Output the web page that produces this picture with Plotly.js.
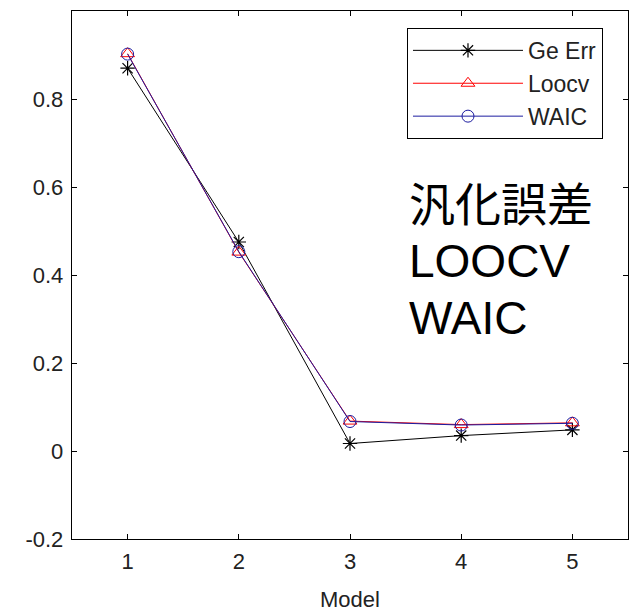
<!DOCTYPE html>
<html>
<head>
<meta charset="utf-8">
<script src="https://cdn.plot.ly/plotly-3.0.1.min.js"></script>
<style>html,body{margin:0;padding:0;background:#fff;overflow:hidden;}#chart{width:631px;height:612px;}</style>
</head>
<body>
<div id="chart"></div>
<script>
const models = [1, 2, 3, 4, 5];
const geErr = [0.870, 0.475, 0.017, 0.035, 0.048];
const loocv = [0.903, 0.452, 0.068, 0.060, 0.064];
const waic  = [0.902, 0.453, 0.067, 0.059, 0.063];
const seriesNames = ['Ge Err', 'Loocv', 'WAIC'];
const yTickVals = [-0.2, 0, 0.2, 0.4, 0.6, 0.8];
const yTickText = ['-0.2', '0', '0.2', '0.4', '0.6', '0.8'];
const noteLines = ['汎化誤差', 'LOOCV', 'WAIC'];

const font = 'Liberation Sans, Arial, Noto Sans CJK JP, sans-serif';
const noteFont = 'Liberation Sans, Arial, Noto Sans CJK JP, sans-serif';

const traces = [
  {x: models, y: geErr, name: seriesNames[0], mode: 'lines+markers',
   line: {color: '#000000', width: 1},
   marker: {symbol: 'asterisk-open', size: 12, color: '#000000', line: {color: '#000000', width: 1.2}}},
  {x: models, y: loocv, name: seriesNames[1], mode: 'lines+markers',
   line: {color: '#ff0000', width: 1},
   marker: {symbol: 'triangle-up-open', size: 12, color: '#ff0000', line: {color: '#ff0000', width: 1}}},
  {x: models, y: waic, name: seriesNames[2], mode: 'lines+markers',
   line: {color: '#1c1ca0', width: 1},
   marker: {symbol: 'circle-open', size: 12, color: '#1c1ca0', line: {color: '#1c1ca0', width: 1}}}
];

const axisCommon = {
  showline: true, mirror: 'ticks', linecolor: '#000', linewidth: 1.3,
  ticks: 'inside', ticklen: 5, tickcolor: '#000', tickwidth: 1,
  showgrid: false, zeroline: false,
  tickfont: {family: font, size: 22, color: '#222'}
};

const noteY = [0.6326, 0.5265, 0.4186];
const annotations = noteLines.map((t, i) => ({
  xref: 'paper', yref: 'paper', x: 0.602, y: noteY[i], xanchor: 'left', yanchor: 'middle',
  text: t, showarrow: false, align: 'left',
  font: {family: noteFont, size: 46, color: '#000'}
}));

const layout = {
  width: 631, height: 612,
  margin: {l: 72, r: 3, t: 11, b: 73},
  paper_bgcolor: '#fff', plot_bgcolor: '#fff',
  showlegend: true,
  xaxis: Object.assign({}, axisCommon, {
    range: [0.5, 5.5], tickvals: models, ticklabelstandoff: 2,
    title: {text: 'Model', font: {family: font, size: 22, color: '#222'}, standoff: 19}
  }),
  yaxis: Object.assign({}, axisCommon, {
    range: [-0.2, 1.0], tickvals: yTickVals, ticktext: yTickText, ticklabelstandoff: 3
  }),
  legend: {
    x: 0.6025, xanchor: 'left', y: 0.968, yanchor: 'top',
    bgcolor: '#fff', bordercolor: '#000', borderwidth: 1,
    font: {family: font, size: 23, color: '#222'},
    itemwidth: 110, tracegroupgap: 0
  },
  annotations: annotations
};

Plotly.newPlot('chart', traces, layout, {displayModeBar: false, staticPlot: true});
</script>
</body>
</html>
